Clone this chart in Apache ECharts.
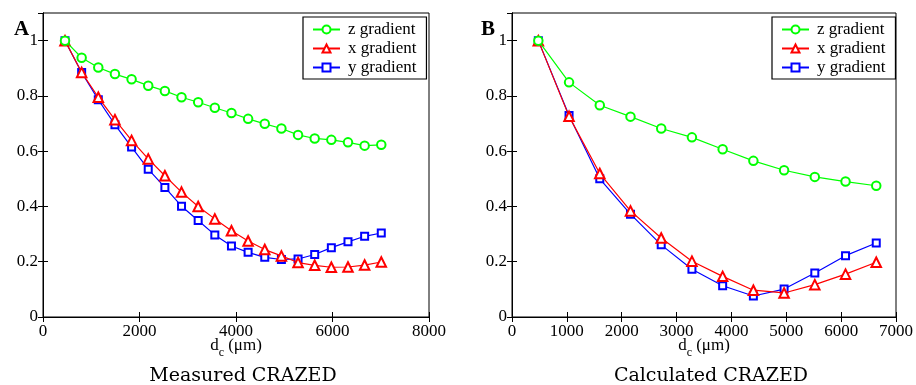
<!DOCTYPE html>
<html><head><meta charset="utf-8">
<script src="https://cdn.jsdelivr.net/npm/echarts@6/dist/echarts.min.js"></script>
<style>html,body{margin:0;padding:0;background:#fff}#c{width:916px;height:385px}</style>
</head><body><div id="c"></div>
<script>
// ---- data ----
const seriesNames = ['z gradient', 'x gradient', 'y gradient'];
const xA = [456, 801, 1146, 1491, 1836, 2181, 2526, 2871, 3216, 3561, 3906, 4251, 4596, 4941, 5286, 5631, 5976, 6321, 6666, 7011];
const zA = [1.0, 0.938, 0.903, 0.879, 0.860, 0.837, 0.818, 0.795, 0.777, 0.757, 0.738, 0.717, 0.699, 0.682, 0.659, 0.646, 0.641, 0.632, 0.620, 0.623];
const xGradA = [1.0, 0.885, 0.795, 0.714, 0.639, 0.572, 0.511, 0.452, 0.400, 0.355, 0.312, 0.275, 0.244, 0.221, 0.197, 0.187, 0.180, 0.181, 0.188, 0.199];
const yGradA = [1.0, 0.885, 0.786, 0.696, 0.615, 0.535, 0.469, 0.401, 0.349, 0.297, 0.257, 0.234, 0.216, 0.208, 0.210, 0.226, 0.251, 0.272, 0.292, 0.304];
const xB = [480, 1040, 1600, 2160, 2720, 3280, 3840, 4400, 4960, 5520, 6080, 6640];
const zB = [1.0, 0.849, 0.766, 0.725, 0.682, 0.650, 0.607, 0.565, 0.531, 0.507, 0.490, 0.475];
const xGradB = [1.0, 0.726, 0.519, 0.384, 0.286, 0.202, 0.147, 0.097, 0.087, 0.117, 0.155, 0.198];
const yGradB = [1.0, 0.729, 0.500, 0.372, 0.261, 0.173, 0.113, 0.076, 0.101, 0.159, 0.222, 0.268];
const xTicksA = {min: 0, max: 8000, interval: 2000};
const xTicksB = {min: 0, max: 7000, interval: 1000};
const yTicks = {min: 0, max: 1.1, interval: 0.2};
const panelLabels = ['A', 'B'];
const panelTitles = ['Measured CRAZED', 'Calculated CRAZED'];

// ---- build ----
const SERIF = '"Liberation Serif", "Times New Roman", serif';
const colors = ['#00ff00', '#ff0000', '#0000ff'];
const symbols = ['emptyCircle', 'emptyTriangle', 'emptyRect'];
const symSizes = [8.5, 9.5, 7];
const zip = (xs, ys) => xs.map((x, i) => [x, ys[i]]);

const grids = [
  {left: 43, right: 487, top: 13, bottom: 68},
  {left: 512, right: 19, top: 13, bottom: 68}
];
grids.forEach(g => { g.show = true; g.borderColor = '#000'; g.borderWidth = 1; g.backgroundColor = 'transparent'; });

const tickStyle = {show: true, inside: true, length: 5, lineStyle: {color: '#000', width: 1}};
const labelStyle = {color: '#000', fontFamily: SERIF, fontSize: 17};
const xName = {
  name: '{a|d}{s|c}{a| (μm)}',
  nameLocation: 'middle',
  nameGap: 20,
  nameMoveOverlap: false,
  nameTextStyle: {
    rich: {
      a: {fontFamily: SERIF, fontSize: 17, color: '#000', lineHeight: 22, verticalAlign: 'top'},
      s: {fontFamily: SERIF, fontSize: 12, color: '#000', lineHeight: 22, verticalAlign: 'bottom'}
    }
  }
};

const xAxes = [];
const yAxes = [];
[xTicksA, xTicksB].forEach((t, gi) => {
  xAxes.push(Object.assign({type: 'value', gridIndex: gi, position: 'bottom', min: t.min, max: t.max, interval: t.interval,
    axisLine: {show: true, lineStyle: {color: '#000'}}, axisTick: tickStyle, splitLine: {show: false},
    axisLabel: Object.assign({margin: 6, formatter: v => String(Math.round(v))}, labelStyle)}, xName));
  xAxes.push({type: 'value', gridIndex: gi, position: 'top', min: t.min, max: t.max, interval: t.interval,
    axisLine: {show: true, lineStyle: {color: '#000'}}, axisTick: tickStyle, splitLine: {show: false}, axisLabel: {show: false}});
  yAxes.push({type: 'value', gridIndex: gi, position: 'left', min: yTicks.min, max: yTicks.max, interval: yTicks.interval,
    axisLine: {show: true, lineStyle: {color: '#000'}}, axisTick: tickStyle, splitLine: {show: false},
    axisLabel: Object.assign({margin: 5, showMaxLabel: false, formatter: v => String(+v.toFixed(1))}, labelStyle)});
  yAxes.push({type: 'value', gridIndex: gi, position: 'right', min: yTicks.min, max: yTicks.max, interval: yTicks.interval,
    axisLine: {show: true, lineStyle: {color: '#000'}}, axisTick: tickStyle, splitLine: {show: false}, axisLabel: {show: false}});
});

const panels = [
  {xs: xA, ys: [zA, xGradA, yGradA]},
  {xs: xB, ys: [zB, xGradB, yGradB]}
];
const series = [];
panels.forEach((p, pi) => {
  p.ys.forEach((ys, si) => {
    series.push({
      type: 'line', name: seriesNames[si], xAxisIndex: pi * 2, yAxisIndex: pi * 2,
      data: zip(p.xs, ys), symbol: symbols[si], symbolSize: symSizes[si],
      lineStyle: {color: colors[si], width: 1.2},
      itemStyle: {color: colors[si], borderWidth: 1},
      animation: false, z: 3 - si
    });
  });
});

const legendBase = {
  orient: 'vertical', top: 17, padding: [3, 10, 2, 9], itemGap: 0,
  itemWidth: 27, itemHeight: 10, borderColor: '#000', borderWidth: 1.2, backgroundColor: '#fff',
  textStyle: {fontFamily: SERIF, fontSize: 17, color: '#000', lineHeight: 19, padding: [0, 0, 0, 3]},
  data: seriesNames, selectedMode: false
};
const legends = [Object.assign({}, legendBase, {left: 303}), Object.assign({}, legendBase, {left: 772})];

const titles = [
  {text: panelLabels[0], left: 9, top: 14, textStyle: {fontFamily: SERIF, fontWeight: 'bold', fontSize: 21, color: '#000'}},
  {text: panelLabels[1], left: 476, top: 14, textStyle: {fontFamily: SERIF, fontWeight: 'bold', fontSize: 21, color: '#000'}},
  {text: panelTitles[0], left: 238, textAlign: 'center', top: 362, textStyle: {fontFamily: '"DejaVu Serif", serif', fontWeight: 'normal', fontSize: 19, color: '#000'}},
  {text: panelTitles[1], left: 706, textAlign: 'center', top: 362, textStyle: {fontFamily: '"DejaVu Serif", serif', fontWeight: 'normal', fontSize: 19, color: '#000'}}
];

const chart = echarts.init(document.getElementById('c'), null, {renderer: 'canvas'});
chart.setOption({
  backgroundColor: '#fff',
  animation: false,
  title: titles,
  legend: legends,
  grid: grids,
  xAxis: xAxes,
  yAxis: yAxes,
  series: series
});
</script>
</body></html>
